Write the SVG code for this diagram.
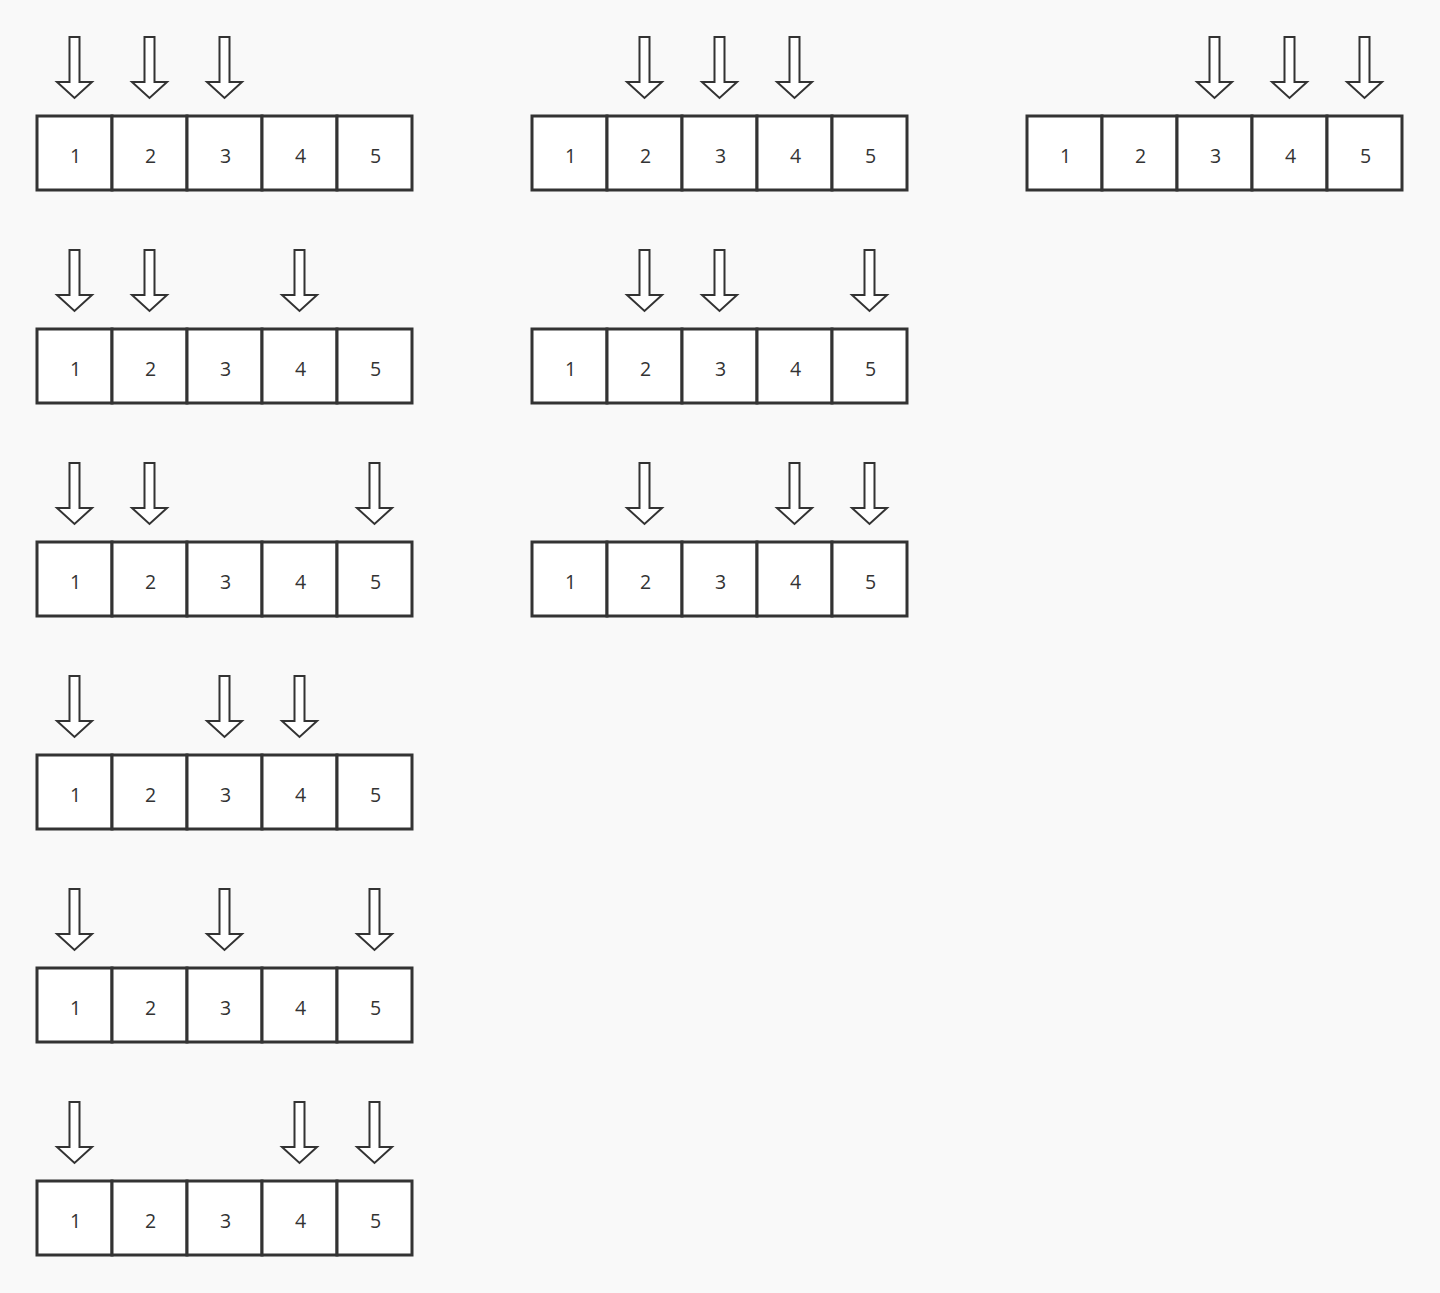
<svg xmlns="http://www.w3.org/2000/svg" xmlns:xlink="http://www.w3.org/1999/xlink" width="1440" height="1293" viewBox="0 0 1440 1293">
<style>
.c{fill:#fff;stroke:#333;stroke-width:3}
.t{font-family:"Open Sans","Noto Sans","Liberation Sans",sans-serif;font-size:19.5px;fill:#333;text-anchor:middle;dominant-baseline:central}
.ar{fill:#fff;stroke:#333;stroke-width:2;stroke-linejoin:miter}
</style>
<defs>
<path id="arr" class="ar" d="M-5,0 L5,0 L5,45 L17.5,45 L0,61 L-17.5,45 L-5,45 Z"/>
<g id="row">
<rect class="c" x="0" y="0" width="75" height="74"/>
<rect class="c" x="75" y="0" width="75" height="74"/>
<rect class="c" x="150" y="0" width="75" height="74"/>
<rect class="c" x="225" y="0" width="75" height="74"/>
<rect class="c" x="300" y="0" width="75" height="74"/>
<text class="t" x="38.5" y="39">1</text>
<text class="t" x="113.5" y="39">2</text>
<text class="t" x="188.5" y="39">3</text>
<text class="t" x="263.5" y="39">4</text>
<text class="t" x="338.5" y="39">5</text>
</g>
</defs>
<rect x="0" y="0" width="1440" height="1293" fill="#f9f9f9"/>
<g id="nodes">
<g id="a1" transform="translate(37,116)"><use xlink:href="#row"/></g>
<g id="a2" transform="translate(37,329)"><use xlink:href="#row"/></g>
<g id="a3" transform="translate(37,542)"><use xlink:href="#row"/></g>
<g id="a4" transform="translate(37,755)"><use xlink:href="#row"/></g>
<g id="a5" transform="translate(37,968)"><use xlink:href="#row"/></g>
<g id="a6" transform="translate(37,1181)"><use xlink:href="#row"/></g>
<g id="b1" transform="translate(532,116)"><use xlink:href="#row"/></g>
<g id="b2" transform="translate(532,329)"><use xlink:href="#row"/></g>
<g id="b3" transform="translate(532,542)"><use xlink:href="#row"/></g>
<g id="c1" transform="translate(1027,116)"><use xlink:href="#row"/></g>
</g>
<g id="connectors">
<use xlink:href="#arr" x="74.5" y="37"/><use xlink:href="#arr" x="149.5" y="37"/><use xlink:href="#arr" x="224.5" y="37"/>
<use xlink:href="#arr" x="74.5" y="250"/><use xlink:href="#arr" x="149.5" y="250"/><use xlink:href="#arr" x="299.5" y="250"/>
<use xlink:href="#arr" x="74.5" y="463"/><use xlink:href="#arr" x="149.5" y="463"/><use xlink:href="#arr" x="374.5" y="463"/>
<use xlink:href="#arr" x="74.5" y="676"/><use xlink:href="#arr" x="224.5" y="676"/><use xlink:href="#arr" x="299.5" y="676"/>
<use xlink:href="#arr" x="74.5" y="889"/><use xlink:href="#arr" x="224.5" y="889"/><use xlink:href="#arr" x="374.5" y="889"/>
<use xlink:href="#arr" x="74.5" y="1102"/><use xlink:href="#arr" x="299.5" y="1102"/><use xlink:href="#arr" x="374.5" y="1102"/>
<use xlink:href="#arr" x="644.5" y="37"/><use xlink:href="#arr" x="719.5" y="37"/><use xlink:href="#arr" x="794.5" y="37"/>
<use xlink:href="#arr" x="644.5" y="250"/><use xlink:href="#arr" x="719.5" y="250"/><use xlink:href="#arr" x="869.5" y="250"/>
<use xlink:href="#arr" x="644.5" y="463"/><use xlink:href="#arr" x="794.5" y="463"/><use xlink:href="#arr" x="869.5" y="463"/>
<use xlink:href="#arr" x="1214.5" y="37"/><use xlink:href="#arr" x="1289.5" y="37"/><use xlink:href="#arr" x="1364.5" y="37"/>
</g>
</svg>
